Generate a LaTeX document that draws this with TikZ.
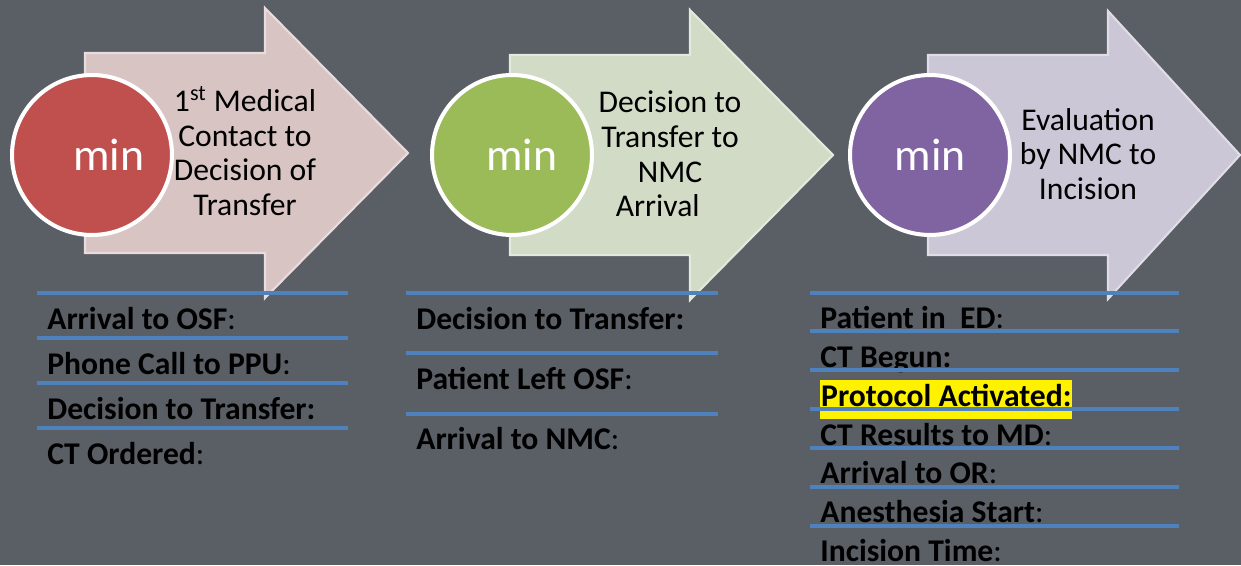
\documentclass[tikz,border=0pt]{standalone}
\usepackage{fontspec}
\setmainfont{Carlito}
\usetikzlibrary{positioning}

\definecolor{slate}{RGB}{90,94,101}
\definecolor{rulec}{RGB}{79,129,189}
\definecolor{redc}{RGB}{192,80,77}
\definecolor{greenc}{RGB}{155,187,89}
\definecolor{purplec}{RGB}{128,100,162}
\definecolor{redl}{RGB}{217,196,196}
\definecolor{greenl}{RGB}{209,219,198}
\definecolor{purplel}{RGB}{204,199,214}

\begin{document}
\begin{tikzpicture}[x=0.02cm,y=-0.02cm]
    \tikzset {
      arrowbox/.style={line width=1.2pt,line join=miter},
      minc/.style={circle,draw=white,line width=2.3pt,minimum size=3.2cm,inner sep=0pt,text=white,font=\fontsize{26}{28}\selectfont},
      steplabel/.style={align=center,font=\fontsize{18}{19.8}\selectfont},
      item/.style={anchor=west,inner sep=0pt,text height=12pt,text depth=3.5pt,font=\fontsize{18}{20}\selectfont},
      rule/.style={rulec,line width=2.3pt}
    }
    \fill [slate] (0,0) rectangle (1241,565);
    \useasboundingbox (0,0) rectangle (1241,565);

    % the three arrows
    \draw [arrowbox,fill=redl,draw=redl!60!white] (85,53) -- (265,53) -- (265,8) -- (408,153) -- (265,298) -- (265,253) -- (85,253) -- cycle;
    \draw [arrowbox,fill=greenl,draw=greenl!60!white] (510,55) -- (690,55) -- (690,10) -- (833,155) -- (690,300) -- (690,255) -- (510,255) -- cycle;
    \draw [arrowbox,fill=purplel,draw=purplel!60!white] (928,55) -- (1108,55) -- (1108,11) -- (1240,155) -- (1108,299) -- (1108,255) -- (928,255) -- cycle;

    \node [minc, fill=redc] (c1) at (92,155) {\kern19pt min};
    \node [minc, fill=greenc] (c2) at (512,155) {\kern11pt min};
    \node [minc, fill=purplec] (c3) at (930,155) {min};

    \node [steplabel] (t1) at (245,151) {1\textsuperscript{st} Medical\\Contact to\\Decision of\\Transfer};
    \node [steplabel] (t2) at (670,154) {Decision to\\Transfer to\\NMC\\Arrival\hspace*{14pt}};
    \node [steplabel] (t3) at (1088,154) {Evaluation\\by NMC to\\Incision};

    % first column
    \node [item] (a1) at (47,322) {\textbf{Arrival to OSF}:};
    \node [item, below=0.9cm of a1.west, anchor=west] (a2) {\textbf{Phone Call to PPU}:};
    \node [item, below=0.9cm of a2.west, anchor=west] (a3) {\textbf{Decision to Transfer:}};
    \node [item, below=0.9cm of a3.west, anchor=west] (a4) {\textbf{CT Ordered}:};

    % second column
    \node [item] (b1) at (416,322) {\textbf{Decision to Transfer:}};
    \node [item, below=1.2cm of b1.west, anchor=west] (b2) {\textbf{Patient Left OSF}:};
    \node [item, below=1.2cm of b2.west, anchor=west] (b3) {\textbf{Arrival to NMC}:};

    % third column
    \node [item] (d1) at (820,321.5) {\textbf{Patient in\ \ ED}:};
    \node [item, below=0.77cm of d1.west, anchor=west] (d2) {\textbf{CT Begun:}};
    \node [item, below=0.79cm of d2.west, anchor=west, fill=yellow, inner xsep=0.5pt, inner ysep=3.6pt] (d3) {\textbf{Protocol Activated:}};
    \node [item, below=0.78cm of d3.west, anchor=west] (d4) {\textbf{CT Results to MD}:};
    \node [item, below=0.76cm of d4.west, anchor=west] (d5) {\textbf{Arrival to OR}:};
    \node [item, below=0.77cm of d5.west, anchor=west] (d6) {\textbf{Anesthesia Start}:};
    \node [item, below=0.79cm of d6.west, anchor=west] (d7) {\textbf{Incision Time}:};

    \foreach \y in {293,338,383,428}
      \draw [rule] (37,\y) -- (348,\y);
    \foreach \y in {293,353,414}
      \draw [rule] (406,\y) -- (718,\y);
    \foreach \y in {293,331,370,409,448,487,526}
      \draw [rule] (810,\y) -- (1179,\y);
  \end{tikzpicture}
\end{document}
